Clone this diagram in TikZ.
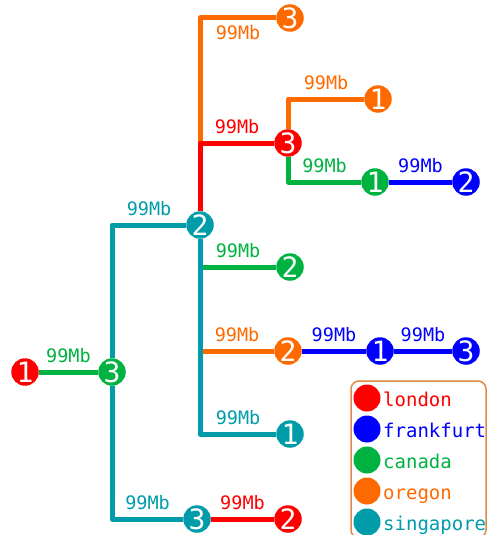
\documentclass[tikz,border=0pt]{standalone}
\usepackage{fontspec}
\setmonofont{DejaVu Sans Mono}
\usetikzlibrary{backgrounds}
\definecolor{cred}{RGB}{255,0,0}
\definecolor{cblue}{RGB}{0,0,255}
\definecolor{cgreen}{RGB}{0,178,64}
\definecolor{corange}{RGB}{255,106,0}
\definecolor{cteal}{RGB}{0,156,170}
\definecolor{cframe}{RGB}{224,136,72}
\tikzset{
  srv/.style={circle, fill=#1, text=white, inner sep=0pt, minimum size=27.5pt,
    font=\ttfamily\fontsize{28}{28}\selectfont},
  link/.style={color=#1, line width=5pt, line join=round},
  lbl/.style={font=\ttfamily\fontsize{18.5}{18.5}\selectfont, inner sep=2pt},
  legdot/.style={circle, fill=#1, inner sep=0pt, minimum size=27pt},
  legtxt/.style={text=#1, anchor=base west, inner sep=0pt,
    font=\ttfamily\fontsize{19}{19}\selectfont},
}
\begin{document}
\begin{tikzpicture}[x=1pt,y=-1pt]
\clip (0,0) rectangle (487,535);
% servers
\node[srv=cred]    (lon1) at (25,372)  {1};
\node[srv=cgreen]  (can3) at (112,372) {3};
\node[srv=cteal]   (sin2) at (200,225) {2};
\node[srv=cred]    (lon3) at (288,143) {3};
\node[srv=corange] (ore3) at (290,18)  {3};
\node[srv=corange] (ore1) at (378,99)  {1};
\node[srv=cgreen]  (can1) at (375,182) {1};
\node[srv=cblue]   (fra2) at (466,182) {2};
\node[srv=cgreen]  (can2) at (290,267) {2};
\node[srv=corange] (ore2) at (288,351) {2};
\node[srv=cblue]   (fra1) at (380,351) {1};
\node[srv=cblue]   (fra3) at (466,351) {3};
\node[srv=cteal]   (sin1) at (290,434) {1};
\node[srv=cteal]   (sin3) at (197,519) {3};
\node[srv=cred]    (lon2) at (288,519) {2};
% links
\begin{scope}[on background layer]
\draw[link=cgreen]  (lon1) -- node[lbl, above=5pt] {99Mb} (can3);
\draw[link=cteal]   (can3) |- node[lbl, pos=0.75, above=5pt] {99Mb} (sin2);
\draw[link=cteal]   (can3) |- node[lbl, pos=0.75, above=5pt] {99Mb} (sin3);
\draw[link=cred]    (sin3) -- node[lbl, above=5pt] {99Mb} (lon2);
\draw[link=corange] (sin2) |- node[lbl, pos=0.75, below=3pt] {99Mb} (ore3);
\draw[link=cred]    (sin2) |- node[lbl, pos=0.75, above=5pt] {99Mb} (lon3);
\draw[link=corange] (lon3) |- node[lbl, pos=0.75, above=5pt] {99Mb} (ore1);
\draw[link=cgreen]  (lon3) |- node[lbl, pos=0.75, above=5pt] {99Mb} (can1);
\draw[link=cblue]   (can1) -- node[lbl, above=5pt] {99Mb} (fra2);
\draw[link=cgreen]  (sin2) |- node[lbl, pos=0.75, above=5pt] {99Mb} (can2);
\draw[link=corange] (sin2) |- node[lbl, pos=0.75, above=5pt] {99Mb} (ore2);
\draw[link=cblue]   (ore2) -- node[lbl, above=5pt] {99Mb} (fra1);
\draw[link=cblue]   (fra1) -- node[lbl, above=5pt] {99Mb} (fra3);
\draw[link=cteal]   (sin2) |- node[lbl, pos=0.75, above=5pt] {99Mb} (sin1);
\end{scope}
% legend
\draw[cframe, line width=1.5pt, rounded corners=8pt] (351,381) rectangle (486,538);
\node[legdot=cred]    (dlon) at (367,398) {};
\node[legdot=cblue]   (dfra) at (367,429) {};
\node[legdot=cgreen]  (dcan) at (367,460) {};
\node[legdot=corange] (dore) at (367,491) {};
\node[legdot=cteal]   (dsin) at (367,522) {};
\node[legtxt=cred]    (tlon) at (383,406) {london};
\node[legtxt=cblue]   (tfra) at (383,437) {frankfurt};
\node[legtxt=cgreen]  (tcan) at (383,468) {canada};
\node[legtxt=corange] (tore) at (383,499) {oregon};
\node[legtxt=cteal]   (tsin) at (383,530) {singapore};
\end{tikzpicture}
\end{document}
